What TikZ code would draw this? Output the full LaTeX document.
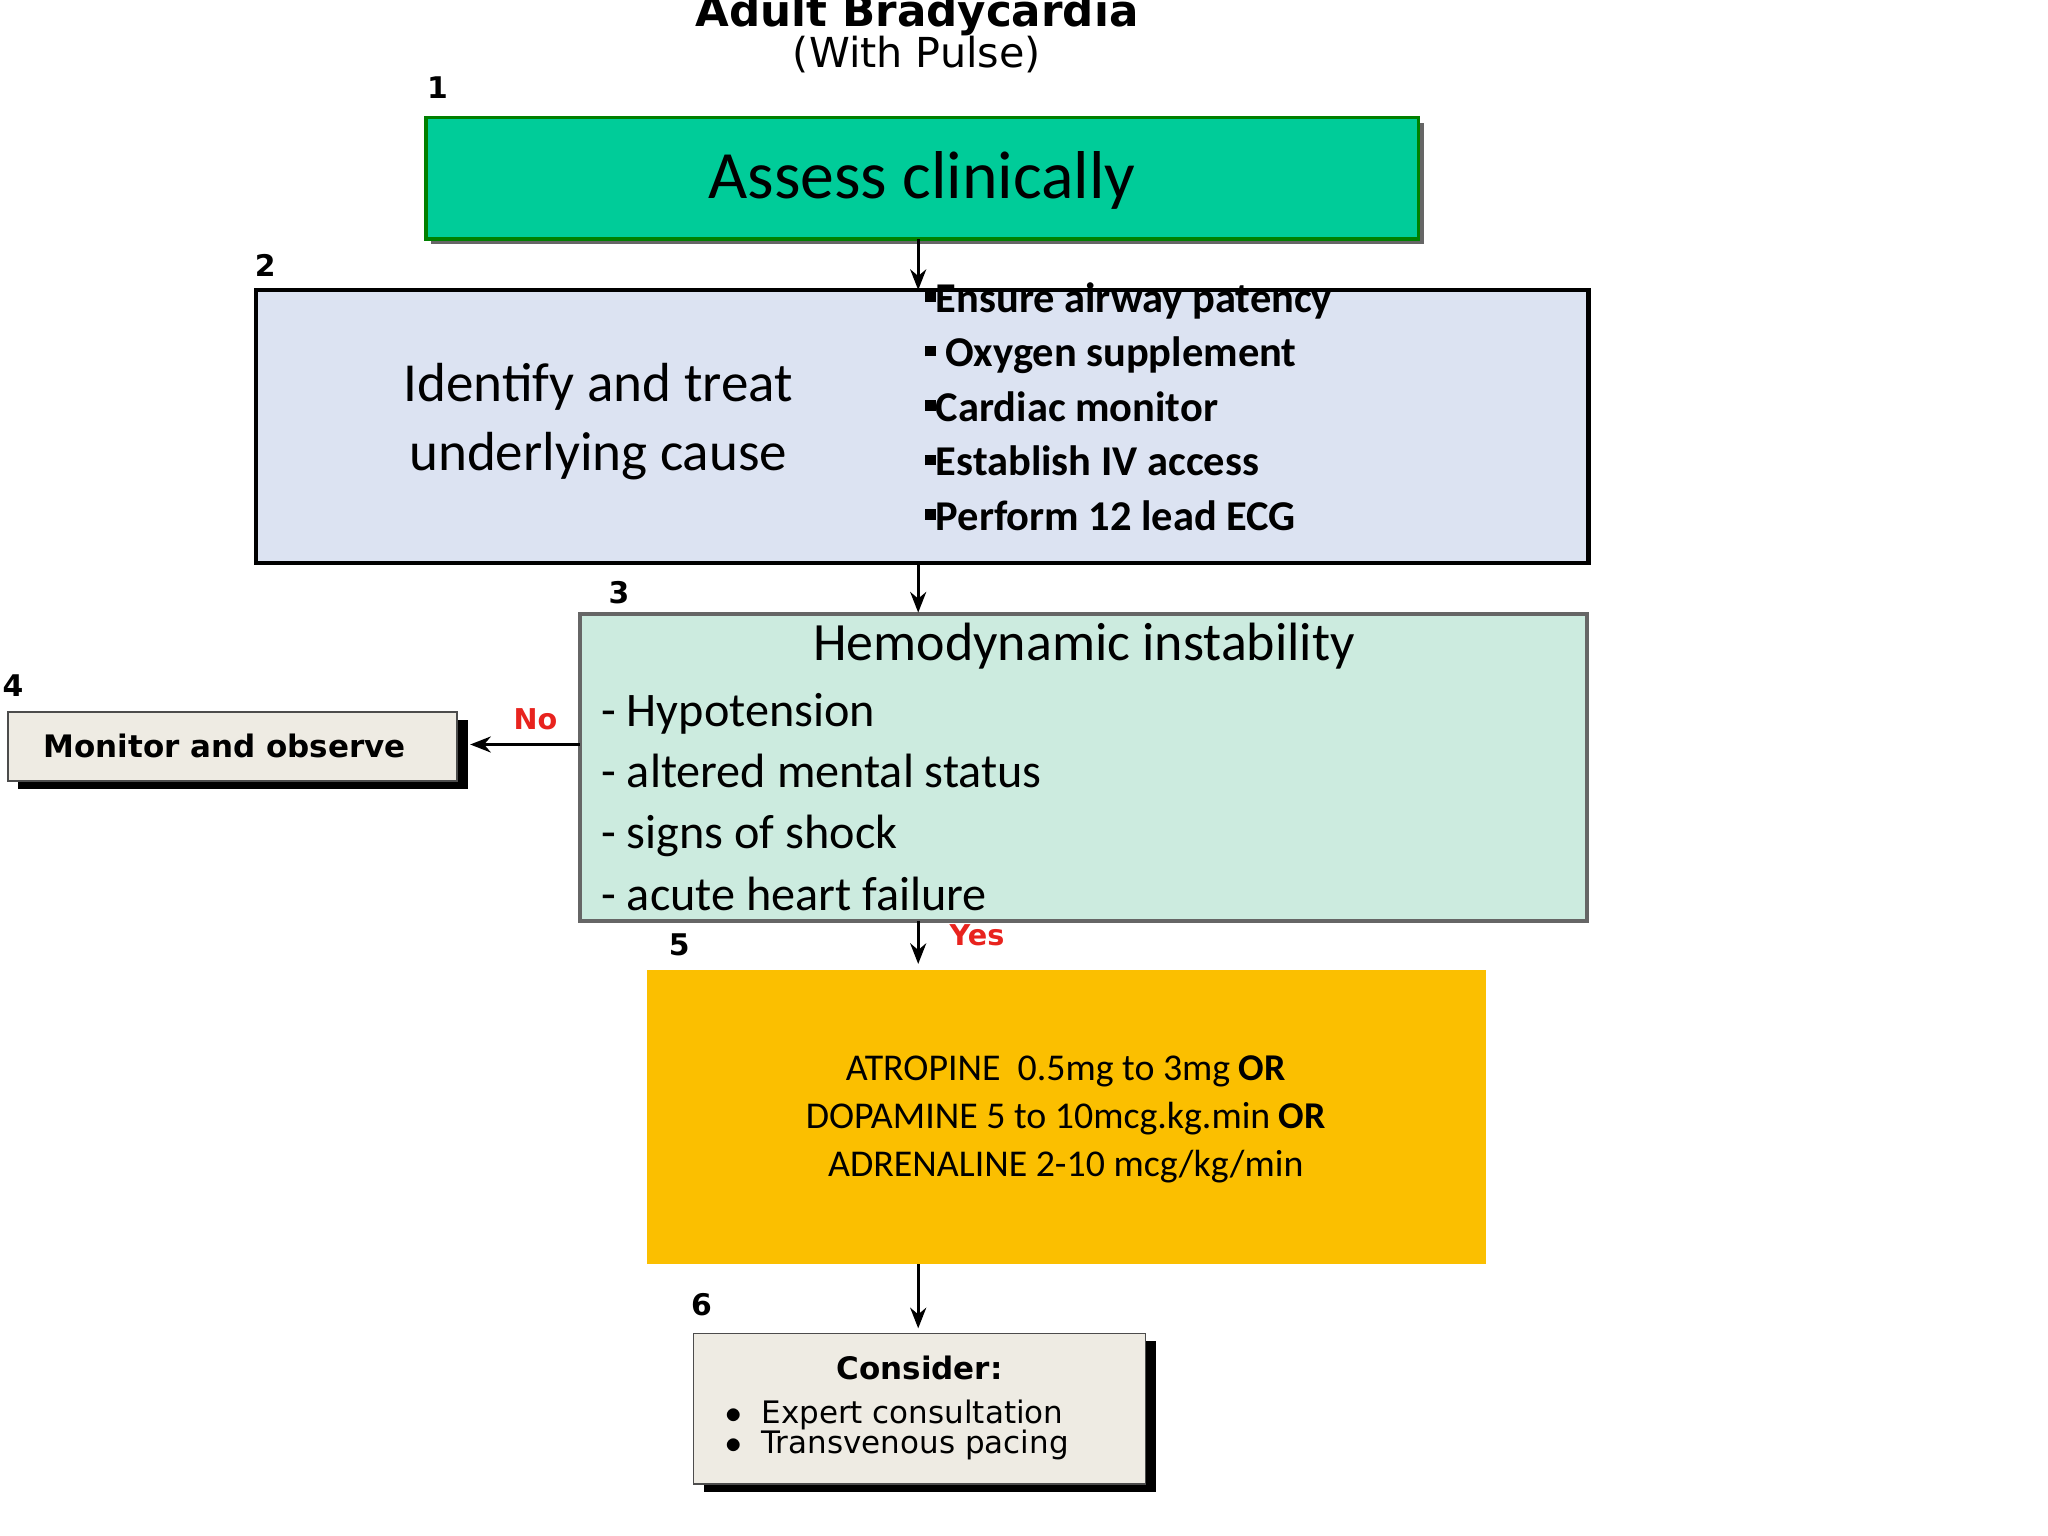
\documentclass[tikz,border=0pt]{standalone}
\usepackage{fontspec}
\usetikzlibrary{arrows.meta}
\setmainfont{Carlito}
\newfontfamily\hv{DejaVu Sans}
\definecolor{boxgreen}{HTML}{00CC99}
\definecolor{boxblue}{HTML}{DCE3F2}
\definecolor{boxmint}{HTML}{CCEBDF}
\definecolor{boxgold}{HTML}{FBBF00}
\definecolor{boxgrey}{HTML}{EEEBE3}
\definecolor{nored}{HTML}{E8231E}
\begin{document}
\begin{tikzpicture}[x=0.02cm,y=-0.02cm,
  num/.style={font=\hv\bfseries\fontsize{13}{15}\selectfont},
  arr/.style={-{Stealth[length=9pt,width=7pt]},line width=1.2pt},
  shadowbox/.style={draw=black!70,line width=0.8pt,fill=boxgrey}]
\useasboundingbox (0,0) rectangle (1568,1176);
% title
\node[font=\hv\bfseries\fontsize{19}{21}\selectfont] (t1) at (702,11) {Adult Bradycardia};
\node[font=\hv\fontsize{18}{20}\selectfont] (t2) at (702,42) {(With Pulse)};
% box 1
\node[num] (n1) at (335,67) {1};
\fill[black!60] (330,94) rectangle (1090,187);
\draw[fill=boxgreen,draw=green!50!black,line width=1.5pt] (326,90) rectangle (1086,183);
\node[font=\fontsize{29.5}{32}\selectfont] (b1) at (706,138) {Assess clinically};
% box 2
\node[num] (n2) at (203,203) {2};
\draw[fill=boxblue,line width=2pt] (196,222) rectangle (1216,431);
\node[font=\fontsize{24}{30}\selectfont,align=center] (b2) at (458,323) {Identify and treat\\underlying cause};
\foreach \t [count=\i] in {{Ensure airway patency},{ Oxygen supplement},{Cardiac monitor},{Establish IV access},{Perform 12 lead ECG}}
  \node[anchor=base west,font=\bfseries\fontsize{18.5}{20}\selectfont,inner sep=0pt] (l\i) at (708,239+41.75*\i-41.75) {\rule[0.5ex]{0.25em}{0.25em}\t};
% box 3
\node[num] (n3) at (474,454) {3};
\draw[fill=boxmint,draw=black!60,line width=1.5pt] (444,470) rectangle (1215,705);
\node[font=\fontsize{23.5}{26}\selectfont] (b3) at (830,495) {Hemodynamic instability};
\foreach \t [count=\i] in {Hypotension,altered mental status,signs of shock,acute heart failure}
  \node[anchor=base west,font=\fontsize{21}{24}\selectfont,inner sep=0pt] (h\i) at (460,556+47*\i-47) {- \t};
% box 4
\node[num] (n4) at (10,525) {4};
\fill[black] (14,551) rectangle (358,604);
\draw[shadowbox] (6,545) rectangle (350,598);
\node[font=\hv\bfseries\fontsize{13.5}{15}\selectfont] (b4) at (172,571) {Monitor and observe};
\node[font=\hv\bfseries\fontsize{12.5}{14}\selectfont,text=nored] (no) at (410,551) {No};
% box 5
\node[num] (n5) at (520,723) {5};
\fill[boxgold] (495,743) rectangle (1138,968);
\node[font=\fontsize{16.5}{21}\selectfont,align=center] (b5) at (816,857) {ATROPINE\ \ 0.5mg to 3mg \textbf{OR}\\DOPAMINE 5 to 10mcg.kg.min \textbf{OR}\\ADRENALINE 2-10 mcg/kg/min};
\node[font=\hv\bfseries\fontsize{12.5}{14}\selectfont,text=nored] (yes) at (748,716) {Yes};
% box 6
\node[num] (n6) at (537,999) {6};
\fill[black] (539,1027) rectangle (885,1142);
\draw[shadowbox] (531,1021) rectangle (877,1136);
\node[font=\hv\bfseries\fontsize{13.5}{15}\selectfont] (b6) at (704,1047) {Consider:};
\node[anchor=west,font=\hv\fontsize{13.5}{14}\selectfont,align=left,inner sep=0pt] (b6l) at (555,1095) {$\bullet$\ \ Expert consultation\\[-1pt]$\bullet$\ \ Transvenous pacing};
% connectors
\coordinate (a1) at (703,183); \coordinate (a2) at (703,222);
\coordinate (a3) at (703,431); \coordinate (a4) at (703,469);
\coordinate (a5) at (444,570); \coordinate (a6) at (360,570);
\coordinate (a7) at (703,705); \coordinate (a8) at (703,738);
\coordinate (a9) at (703,968); \coordinate (a10) at (703,1017);
\draw[arr] (a1) -- (a2);
\draw[arr] (a3) -- (a4);
\draw[arr] (a5) -- (a6);
\draw[arr] (a7) -- (a8);
\draw[arr] (a9) -- (a10);
\end{tikzpicture}
\end{document}
